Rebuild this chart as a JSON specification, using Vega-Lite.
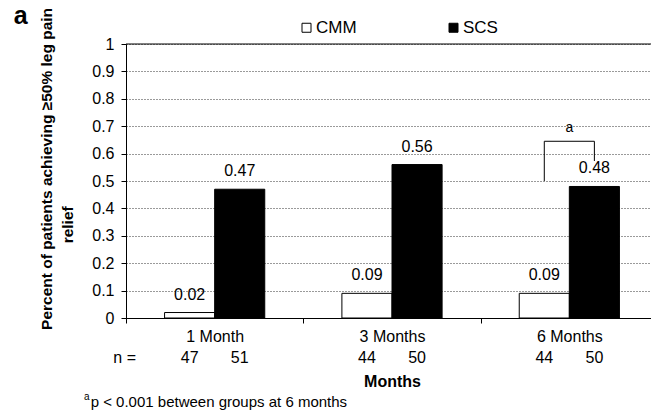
{
  "$schema": "https://vega.github.io/schema/vega-lite/v6.json",
  "width": 525,
  "height": 281,
  "autosize": {"type": "none"},
  "padding": {"left": 126, "top": 37, "right": 0, "bottom": 99},
  "background": "white",
  "config": {
    "font": "Liberation Sans",
    "view": {"stroke": null},
    "text": {"color": "black", "font": "Liberation Sans"},
    "axis": {"domainColor": "black", "tickColor": "black", "labelColor": "black", "titleColor": "black", "labelFont": "Liberation Sans", "titleFont": "Liberation Sans"},
    "axisX": {"labelFontSize": 16, "labelPadding": 5, "labelAngle": 0, "tickSize": 5, "titleFontSize": 16, "titleFontWeight": "bold", "titlePadding": 29, "tickBand": "extent", "grid": false},
    "axisY": {"labelFontSize": 16, "labelPadding": 7, "tickSize": 5, "grid": true, "gridDash": [1, 2], "gridColor": "black", "gridWidth": 0.8, "gridOpacity": 1, "labelOverlap": false}
  },
  "datasets": {
    "bars": [
      {"Month": "1 Month", "Group": "CMM", "value": 0.02, "n": 47},
      {"Month": "1 Month", "Group": "SCS", "value": 0.47, "n": 51},
      {"Month": "3 Months", "Group": "CMM", "value": 0.09, "n": 44},
      {"Month": "3 Months", "Group": "SCS", "value": 0.56, "n": 50},
      {"Month": "6 Months", "Group": "CMM", "value": 0.09, "n": 44},
      {"Month": "6 Months", "Group": "SCS", "value": 0.48, "n": 50}
    ],
    "bracket": [
      {"Month": "6 Months", "Group": "CMM", "y": 0.5, "o": 1},
      {"Month": "6 Months", "Group": "CMM", "y": 0.645, "o": 2},
      {"Month": "6 Months", "Group": "SCS", "y": 0.645, "o": 3},
      {"Month": "6 Months", "Group": "SCS", "y": 0.573, "o": 4}
    ],
    "one": [{}]
  },
  "layer": [
    {
      "data": {"name": "bars"},
      "mark": {"type": "bar", "stroke": "black", "strokeWidth": 1, "opacity": 1},
      "encoding": {
        "x": {"field": "Month", "type": "nominal", "scale": {"range": [0, 532], "paddingInner": 0, "paddingOuter": 0}, "axis": {"title": "Months"}},
        "xOffset": {"field": "Group", "scale": {"paddingOuter": 0.77, "paddingInner": 0}},
        "y": {"field": "value", "type": "quantitative", "scale": {"domain": [0, 1], "range": [281, 7]},
          "axis": {"title": null, "format": "~g"}},
        "fill": {
          "field": "Group", "type": "nominal",
          "scale": {"range": ["white", "black"]},
          "legend": {
            "orient": "none", "legendX": 172, "legendY": -18, "direction": "horizontal",
            "title": null, "symbolType": "square", "symbolSize": 81,
            "symbolStrokeColor": "black", "symbolStrokeWidth": 1, "symbolOpacity": 1,
            "labelFontSize": 17, "labelColor": "black", "labelOffset": 1, "columnPadding": 88
          }
        }
      }
    },
    {
      "data": {"name": "bars"},
      "mark": {"type": "text", "baseline": "middle", "dy": -18, "fontSize": 16},
      "encoding": {
        "x": {"field": "Month", "type": "nominal"},
        "xOffset": {"field": "Group"},
        "y": {"field": "value", "type": "quantitative"},
        "text": {"field": "value", "type": "quantitative", "format": ".2f"}
      }
    },
    {
      "data": {"name": "bars"},
      "mark": {"type": "text", "baseline": "middle", "fontSize": 16},
      "encoding": {
        "x": {"field": "Month", "type": "nominal"},
        "xOffset": {"field": "Group"},
        "y": {"datum": -0.146, "type": "quantitative"},
        "text": {"field": "n", "type": "quantitative"}
      }
    },
    {
      "data": {"name": "bracket"},
      "mark": {"type": "line", "color": "black", "strokeWidth": 1},
      "encoding": {
        "x": {"field": "Month", "type": "nominal"},
        "xOffset": {"field": "Group"},
        "y": {"field": "y", "type": "quantitative"},
        "order": {"field": "o"}
      }
    },
    {
      "data": {"name": "one"},
      "mark": {"type": "rule", "color": "black", "strokeWidth": 1},
      "encoding": {"y": {"datum": 1, "type": "quantitative"}}
    },
    {
      "data": {"name": "one"},
      "mark": {"type": "text", "baseline": "middle", "fontSize": 16, "dx": -90},
      "encoding": {
        "x": {"datum": "1 Month", "type": "nominal"},
        "y": {"datum": -0.146, "type": "quantitative"},
        "text": {"value": "n ="}
      }
    },
    {
      "data": {"name": "one"},
      "mark": {"type": "text", "baseline": "middle", "fontSize": 14},
      "encoding": {
        "x": {"datum": "6 Months", "type": "nominal"},
        "y": {"datum": 0.693, "type": "quantitative"},
        "text": {"value": "a"}
      }
    },
    {
      "data": {"name": "one"},
      "mark": {"type": "text", "baseline": "middle", "fontSize": 25, "fontWeight": "bold", "dx": -194},
      "encoding": {
        "x": {"datum": "1 Month", "type": "nominal"},
        "y": {"datum": 1.104, "type": "quantitative"},
        "text": {"value": "a"}
      }
    },
    {
      "data": {"name": "one"},
      "mark": {"type": "text", "baseline": "middle", "align": "center", "angle": 270, "fontSize": 15.5, "fontWeight": "bold", "dy": -168},
      "encoding": {
        "x": {"datum": "1 Month", "type": "nominal"},
        "y": {"datum": 0.544, "type": "quantitative"},
        "text": {"value": "Percent of patients achieving ≥50%  leg pain"}
      }
    },
    {
      "data": {"name": "one"},
      "mark": {"type": "text", "baseline": "middle", "align": "center", "angle": 270, "fontSize": 15.5, "fontWeight": "bold", "dy": -147},
      "encoding": {
        "x": {"datum": "1 Month", "type": "nominal"},
        "y": {"datum": 0.34, "type": "quantitative"},
        "text": {"value": "relief"}
      }
    },
    {
      "data": {"name": "one"},
      "mark": {"type": "text", "baseline": "middle", "fontSize": 10, "dx": -128},
      "encoding": {
        "x": {"datum": "1 Month", "type": "nominal"},
        "y": {"datum": -0.288, "type": "quantitative"},
        "text": {"value": "a"}
      }
    },
    {
      "data": {"name": "one"},
      "mark": {"type": "text", "baseline": "middle", "align": "left", "fontSize": 15, "dx": -124},
      "encoding": {
        "x": {"datum": "1 Month", "type": "nominal"},
        "y": {"datum": -0.307, "type": "quantitative"},
        "text": {"value": "p < 0.001 between groups at 6 months"}
      }
    }
  ]
}
